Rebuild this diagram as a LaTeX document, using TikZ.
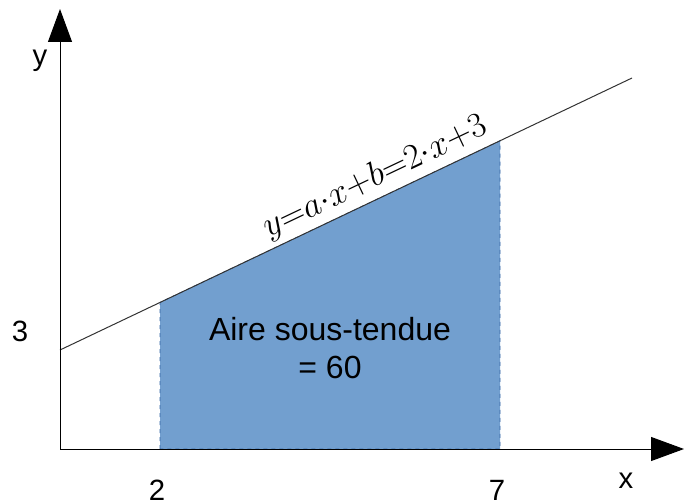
\RequirePackage{fix-cm}
\documentclass[tikz,border=0pt]{standalone}
\usepackage{fontspec}
\setmainfont{Liberation Sans}
\usetikzlibrary{arrows.meta}
\definecolor{areablue}{HTML}{729FCF}
\definecolor{areaedge}{HTML}{3465A4}

\begin{document}
\begin{tikzpicture}[x=0.75pt, y=-0.75pt, >={Triangle[length=24.75pt, width=18pt]},
  every node/.style={font=\fontsize{22}{26}\selectfont, text=black},
  axis/.style={line width=0.75pt, ->},
  area/.style={fill=areablue, draw=areaedge, dashed, line width=0.6pt}]
\useasboundingbox (0,0) rectangle (691,502);
\coordinate (O) at (60,449);
\coordinate (ytop) at (60,9);
\coordinate (xend) at (684,449);
% the straight line and the area under it
\coordinate (l0) at (60,350);
\coordinate (l1) at (632,78);
\coordinate (a0) at (160,449);
\coordinate (a1) at (160,302.4);
\coordinate (b1) at (500,140.8);
\coordinate (b0) at (500,449);
\draw[area] (a0) -- (a1) -- (b1) -- (b0) -- cycle;
\draw[line width=0.75pt, black!80] (l0) -- (l1)
  node[pos=0.566, above=0pt, sloped, font=\fontsize{26.5}{31}\selectfont] (eq)
  {$y{=}a{\cdot}x{+}b{=}2{\cdot}x{+}3$};
\draw[axis] (O) -- (ytop);
\draw[axis] (O) -- (xend);
% axis labels
\node (ylab) at (40,61) {y};
\node (xlab) at (626,481) {x};
\node (three) at (20,331) {3};
\node (two) at (157,490) {2};
\node (seven) at (497,490) {7};
\node[align=center, font=\fontsize{24}{28}\selectfont] (aire) at (330,348)
  {Aire sous-tendue\\= 60};
\end{tikzpicture}
\end{document}
